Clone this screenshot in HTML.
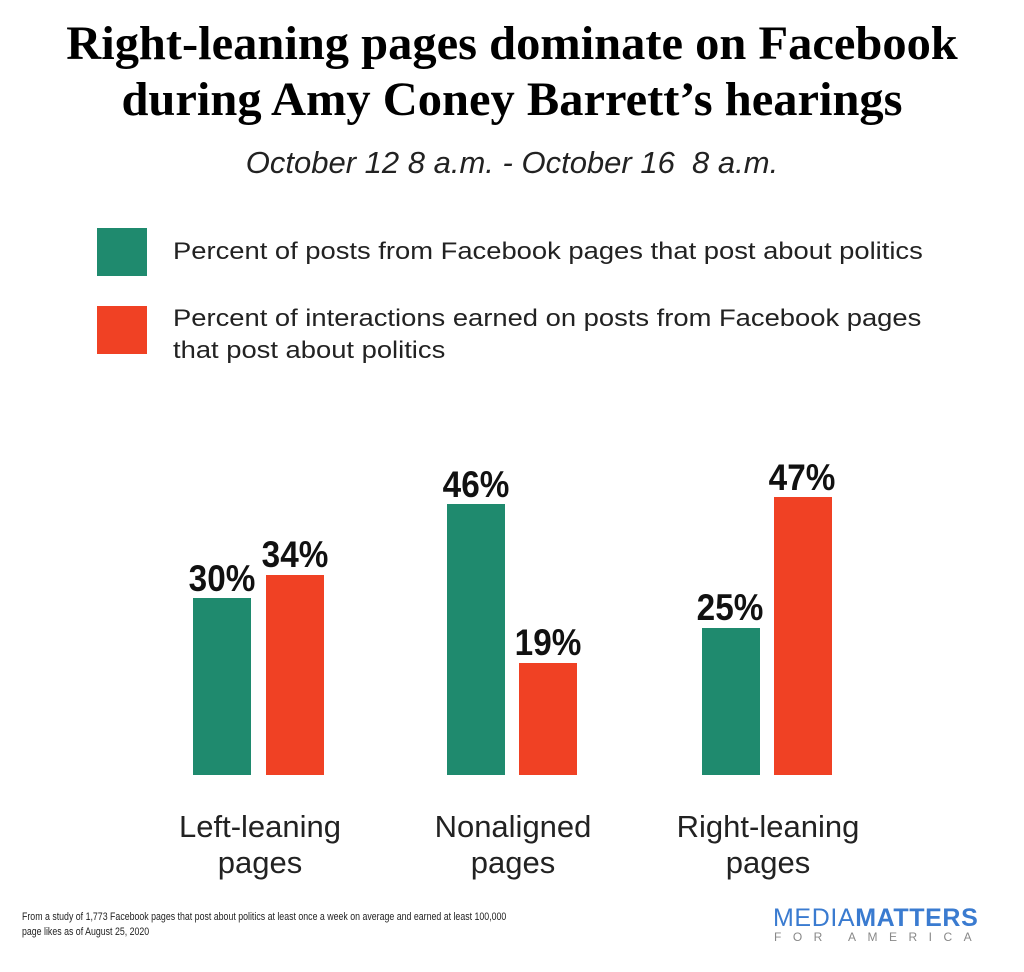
<!DOCTYPE html>
<html><head><meta charset="utf-8"><style>
body{margin:0;width:1024px;height:972px;background:#fff;position:relative;overflow:hidden;font-family:"Liberation Sans",sans-serif;color:#111}
.a{position:absolute;white-space:nowrap}
.t{font-family:"Liberation Serif",serif;font-weight:bold;font-size:48px;left:0;width:1024px;text-align:center;color:#000;transform:scaleX(1.01)}
.bar{position:absolute;bottom:197px;width:58px}
.g{background:#1f8a6e}.r{background:#f04124}
.v{position:absolute;font-size:37px;font-weight:bold;width:100px;text-align:center;transform:scaleX(0.9);color:#111}
.c{position:absolute;font-size:31px;text-align:center;width:240px;line-height:36px;color:#222}
.l{font-size:24px;color:#222;line-height:32px;transform-origin:0 0;transform:scaleX(1.14)}
</style></head><body>
<div class="a t" style="top:16px">Right-leaning pages dominate on Facebook</div>
<div class="a t" style="top:72px">during Amy Coney Barrett’s hearings</div>
<div class="a" style="top:145px;left:0;width:1024px;text-align:center;font-style:italic;font-size:31px;color:#222">October 12 8 a.m. - October 16&nbsp; 8 a.m.</div>
<div class="a" style="left:97px;top:228px;width:50px;height:48px;background:#1f8a6e"></div>
<div class="a l" style="left:173px;top:236px">Percent of posts from Facebook pages that post about politics</div>
<div class="a" style="left:97px;top:306px;width:50px;height:48px;background:#f04124"></div>
<div class="a l" style="left:173px;top:303px">Percent of interactions earned on posts from Facebook pages<br>that post about politics</div>

<div class="bar g" style="left:193px;height:177px"></div>
<div class="bar r" style="left:266px;height:200px"></div>
<div class="bar g" style="left:447px;height:271px"></div>
<div class="bar r" style="left:519px;height:112px"></div>
<div class="bar g" style="left:702px;height:147px"></div>
<div class="bar r" style="left:774px;height:278px"></div>

<div class="v" style="left:172px;top:558px">30%</div>
<div class="v" style="left:245px;top:534px">34%</div>
<div class="v" style="left:426px;top:464px">46%</div>
<div class="v" style="left:498px;top:622px">19%</div>
<div class="v" style="left:680px;top:587px">25%</div>
<div class="v" style="left:752px;top:457px">47%</div>

<div class="c" style="left:140px;top:809px">Left-leaning<br>pages</div>
<div class="c" style="left:393px;top:809px">Nonaligned<br>pages</div>
<div class="c" style="left:648px;top:809px">Right-leaning<br>pages</div>

<div class="a" style="left:22px;top:910px;font-size:11px;line-height:15px;color:#222;transform-origin:0 0;transform:scaleX(0.8)">From a study of 1,773 Facebook pages that post about politics at least once a week on average and earned at least 100,000<br>page likes as of August 25, 2020</div>
<div class="a" style="left:773px;top:904px;font-size:25px;color:#3a7bd0;letter-spacing:0.6px">MEDIA<b>MATTERS</b></div>
<div class="a" style="left:774px;top:930px;font-size:12px;color:#888;letter-spacing:11.5px">FOR AMERICA</div>
</body></html>
